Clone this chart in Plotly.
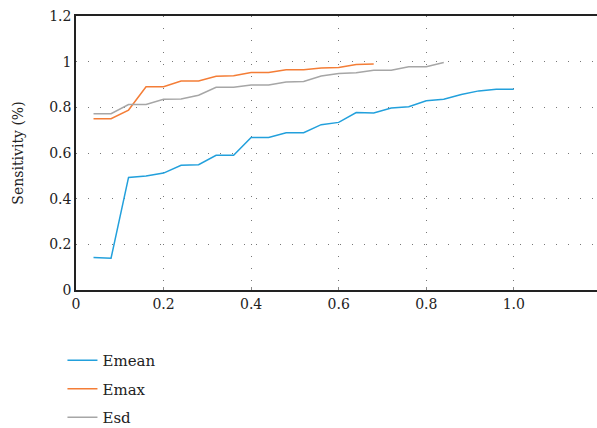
import plotly.graph_objects as go

x_mean = [0.04, 0.08, 0.12, 0.16, 0.20, 0.24, 0.28, 0.32, 0.36, 0.40, 0.44, 0.48, 0.52,
          0.56, 0.60, 0.64, 0.68, 0.72, 0.76, 0.80, 0.84, 0.88, 0.92, 0.96, 1.00]
emean = [0.142, 0.139, 0.493, 0.499, 0.512, 0.546, 0.549, 0.590, 0.590, 0.668, 0.668, 0.689, 0.689,
         0.724, 0.734, 0.777, 0.775, 0.797, 0.803, 0.829, 0.835, 0.856, 0.872, 0.879, 0.879]

x_max = [0.04, 0.08, 0.12, 0.16, 0.20, 0.24, 0.28, 0.32, 0.36, 0.40, 0.44, 0.48, 0.52,
         0.56, 0.60, 0.64, 0.68]
emax = [0.750, 0.750, 0.788, 0.890, 0.890, 0.915, 0.915, 0.936, 0.938, 0.953, 0.953, 0.965, 0.965,
        0.972, 0.974, 0.988, 0.990]

x_sd = [0.04, 0.08, 0.12, 0.16, 0.20, 0.24, 0.28, 0.32, 0.36, 0.40, 0.44, 0.48, 0.52,
        0.56, 0.60, 0.64, 0.68, 0.72, 0.76, 0.80, 0.84]
esd = [0.772, 0.772, 0.812, 0.812, 0.835, 0.837, 0.853, 0.888, 0.888, 0.898, 0.898, 0.911, 0.913,
       0.937, 0.948, 0.952, 0.962, 0.962, 0.978, 0.978, 0.996]

x_tickvals = [0, 0.2, 0.4, 0.6, 0.8, 1.0]
x_ticktext = ["0", "0.2", "0.4", "0.6", "0.8", "1.0"]
y_tickvals = [0, 0.2, 0.4, 0.6, 0.8, 1.0, 1.2]
y_ticktext = ["0", "0.2", "0.4", "0.6", "0.8", "1", "1.2"]

FONT = "DejaVu Serif"

fig = go.Figure()
fig.add_trace(go.Scatter(x=x_mean, y=emean, mode="lines", name="Emean", legendgroup="a",
                         line=dict(color="#22a0dc", width=1.5)))
fig.add_trace(go.Scatter(x=x_max, y=emax, mode="lines", name="Emax", legendgroup="b",
                         line=dict(color="#f47d36", width=1.5)))
fig.add_trace(go.Scatter(x=x_sd, y=esd, mode="lines", name="Esd", legendgroup="c",
                         line=dict(color="#a6a6a6", width=1.5)))

fig.update_layout(
    width=597, height=428,
    margin=dict(l=76, r=0, t=16, b=138, autoexpand=False),
    paper_bgcolor="white", plot_bgcolor="white",
    font=dict(family=FONT, size=14, color="#222222"),
    showlegend=True,
    legend=dict(x=-0.026, y=-0.197, xanchor="left", yanchor="top",
                orientation="v", font=dict(family=FONT, size=15),
                tracegroupgap=6, itemwidth=30),
    xaxis=dict(range=[0, 1.19], tickvals=x_tickvals, ticktext=x_ticktext,
               showline=True, linecolor="#222222", linewidth=1.5, mirror=True,
               ticks="inside", ticklen=3, tickcolor="#888888",
               showgrid=True, gridcolor="#777777", gridwidth=1, griddash="1px,11px",
               zeroline=False, tickfont=dict(size=14), automargin=False),
    yaxis=dict(range=[0, 1.2], tickvals=y_tickvals, ticktext=y_ticktext,
               showline=True, linecolor="#222222", linewidth=1.5,
               ticks="", showgrid=True, gridcolor="#777777", gridwidth=1,
               griddash="1px,11px", zeroline=False, tickfont=dict(size=14),
               automargin=False,
               title=dict(text="Sensitivity (%)", font=dict(size=14), standoff=22)),
)

fig.write_html("out.html", config={"displayModeBar": False},
               post_script="document.body.style.margin='0';")
